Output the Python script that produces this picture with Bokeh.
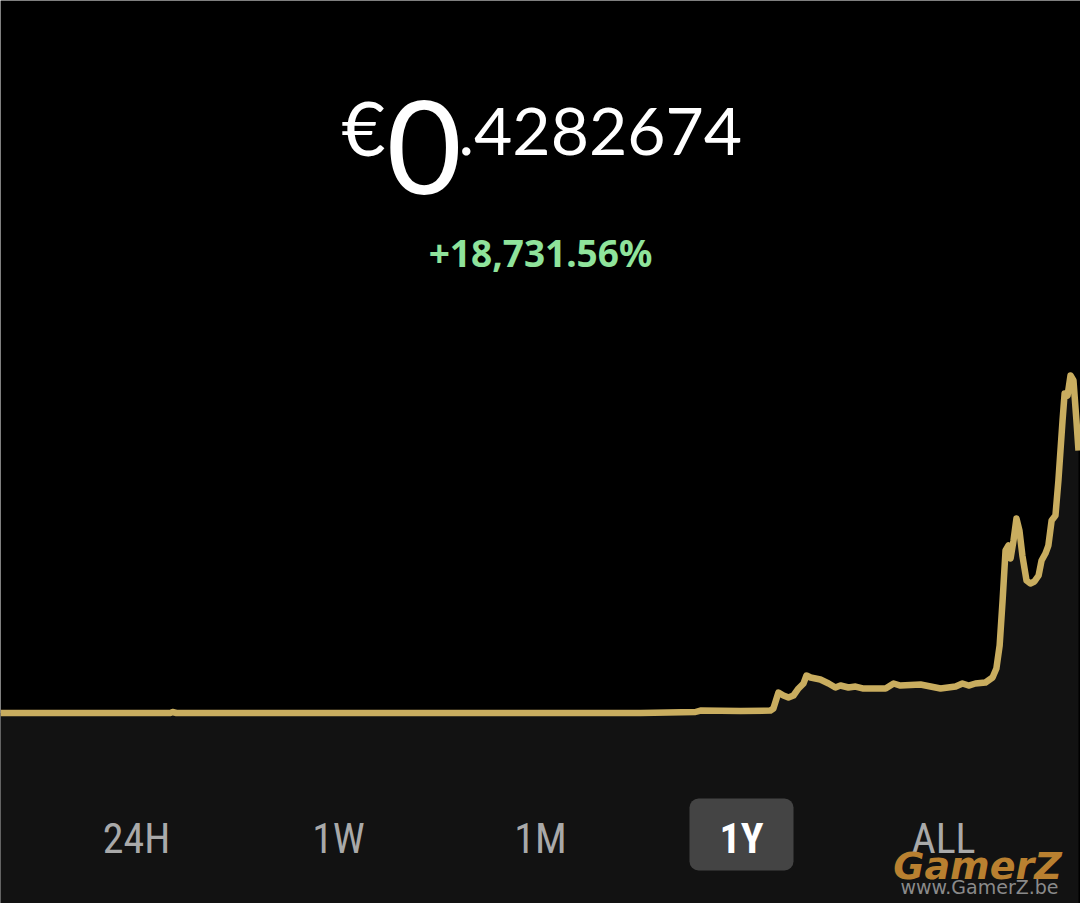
from bokeh.plotting import figure
from bokeh.models import Range1d, Label, BoxAnnotation
from bokeh.embed import file_html
from bokeh.resources import INLINE

# ---- data ----
days = [0, 57.6, 58.2, 59.6, 216.7, 235.3, 237.0, 250.6, 260.7, 261.7, 263.4, 265.1,
        266.8, 268.5, 270.2, 271.9, 272.9, 274.3, 277.6, 280.4, 282.7, 284.4, 287.1,
        289.5, 291.9, 299.7, 302.4, 304.7, 311.5, 314.9, 318.3, 323.4, 325.7, 327.8,
        330.1, 333.5, 335.9, 337.2, 338.3, 339.3, 340.3, 341.3, 342.0, 343.0, 344.0,
        345.0, 346.0, 347.4, 348.7, 350.1, 351.5, 352.5, 353.8, 354.8, 355.9, 357.2,
        358.2, 359.6, 360.3, 361.3, 362.3, 363.3, 364.3, 365.0]
price = [0.0023, 0.0023, 0.0039, 0.0023, 0.0023, 0.0039, 0.0063, 0.0055, 0.0063, 0.0096,
         0.0356, 0.0307, 0.0274, 0.0307, 0.0421, 0.0502, 0.0632, 0.0599, 0.0567, 0.0502,
         0.0437, 0.0469, 0.0437, 0.0453, 0.0421, 0.0421, 0.0502, 0.0469, 0.0486, 0.0453,
         0.0421, 0.0453, 0.0502, 0.0469, 0.0502, 0.0518, 0.0599, 0.0745, 0.1119, 0.1850,
         0.2662, 0.2743, 0.2532, 0.2824, 0.3182, 0.2987, 0.2581, 0.2175, 0.2126, 0.2159,
         0.2256, 0.2500, 0.2613, 0.2743, 0.3149, 0.3230, 0.3799, 0.4773, 0.5212, 0.5179,
         0.5504, 0.5423, 0.4773, 0.4286]
currency = "€"
price_int = "0"
price_frac = ".4282674"
change_text = "+18,731.56%"
periods = ["24H", "1W", "1M", "1Y", "ALL"]
selected = "1Y"

BG = "#000000"
FILL = "#121212"
GOLD = "#C9AD5F"
PRICE_MIN, PRICE_MAX = -0.3071, 1.1594

p = figure(width=1080, height=903, output_backend="svg", toolbar_location=None,
           x_range=Range1d(0, 1080), y_range=Range1d(903, 0),
           x_axis_location=None, y_axis_location=None, min_border=0,
           background_fill_color=BG, border_fill_color=BG, outline_line_color=None)
p.grid.visible = False
p.extra_x_ranges = {"days": Range1d(0, 365.68)}
p.extra_y_ranges = {"price": Range1d(PRICE_MIN, PRICE_MAX)}

p.varea(x=days, y1=price, y2=[PRICE_MIN] * len(days), fill_color=FILL,
        x_range_name="days", y_range_name="price")
p.line(days, price, line_width=6.5, line_color=GOLD, line_join="round",
       x_range_name="days", y_range_name="price")

# ---- header ----
TF = "Lato"
p.add_layout(Label(x=341, y=126, text=currency, text_font=TF, text_font_size="76px",
                   text_color="white", text_baseline="alphabetic", text_align="left"))
p.add_layout(Label(x=386, y=146, text=price_int, text_font=TF, text_font_size="130px",
                   text_color="white", text_baseline="alphabetic", text_align="left"))
p.add_layout(Label(x=458, y=131, text=price_frac, text_font=TF, text_font_size="66px",
                   text_color="white", text_baseline="alphabetic", text_align="left"))
p.add_layout(Label(x=540, y=252, text=change_text, text_font="Noto Sans",
                   text_font_size="37px", text_font_style="bold", text_color="#8FE39B",
                   text_baseline="alphabetic", text_align="center"))

# ---- period buttons ----
p.add_layout(BoxAnnotation(left=689, right=793, top=798, bottom=870,
                           fill_color="#444444", fill_alpha=1, line_color=None,
                           border_radius=9))
centers = [136, 338, 540, 741, 943]
for lab, cx in zip(periods, centers):
    sel = lab == selected
    p.add_layout(Label(x=cx, y=838, text=lab, text_font="Liberation Sans Narrow, Roboto Condensed, Roboto",
                       text_font_size="42px", text_font_style="bold" if sel else "normal",
                       text_color="white" if sel else "#A9A9A9",
                       text_baseline="alphabetic", text_align="center"))

# ---- watermark ----
p.add_layout(Label(x=977, y=865, text="GamerZ", text_font="DejaVu Sans",
                   text_font_size="38px", text_font_style="bold italic", text_color="#B98030",
                   text_baseline="alphabetic", text_align="center"))
p.add_layout(Label(x=979, y=886, text="www.GamerZ.be", text_font="DejaVu Sans",
                   text_font_size="19px", text_color="#8A8A8A",
                   text_baseline="alphabetic", text_align="center"))

open("out.html", "w").write(file_html(p, INLINE))
